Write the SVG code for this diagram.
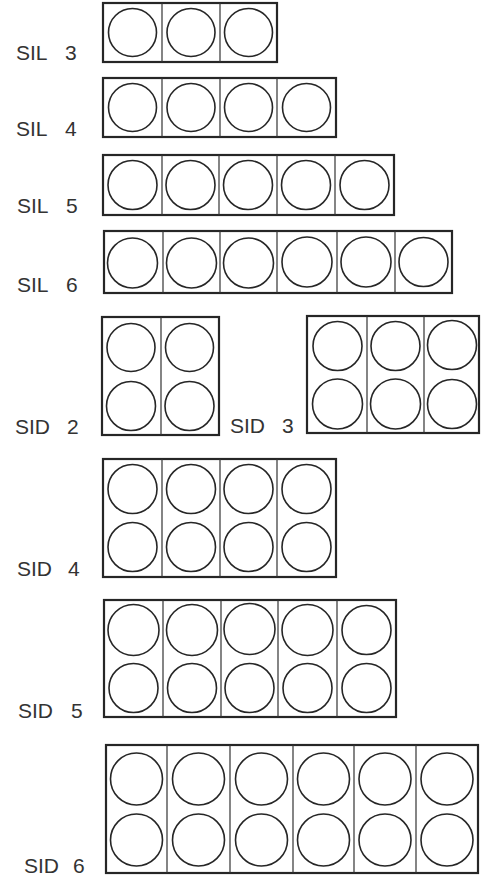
<svg xmlns="http://www.w3.org/2000/svg" width="483" height="876" viewBox="0 0 483 876">
<style>
.frame{fill:none;stroke:#262626;stroke-width:2.2}
.div{stroke:#333;stroke-width:1.2}
.c{fill:none;stroke:#262626;stroke-width:1.6}
.lbl{font-family:"Liberation Sans",Arial,sans-serif;font-size:21px;fill:#333}
</style>
<rect width="483" height="876" fill="#fff"/>
<g id="connectors"></g>

<g id="sil3">
<rect class="frame" x="103" y="3" width="174" height="59"/>
<line class="div" x1="162" y1="3" x2="162" y2="62"/><line class="div" x1="220" y1="3" x2="220" y2="62"/>
<circle class="c" cx="132.5" cy="32.5" r="24"/><circle class="c" cx="191" cy="32.5" r="24"/><circle class="c" cx="248.5" cy="32.5" r="24"/>
<text class="lbl" x="16" y="60">SIL <tspan x="65">3</tspan></text>
</g>

<g id="sil4">
<rect class="frame" x="103" y="78" width="233" height="59"/>
<line class="div" x1="162" y1="78" x2="162" y2="137"/><line class="div" x1="220" y1="78" x2="220" y2="137"/><line class="div" x1="277" y1="78" x2="277" y2="137"/>
<circle class="c" cx="132.5" cy="107.5" r="24"/><circle class="c" cx="191" cy="107.5" r="24"/><circle class="c" cx="248.5" cy="107.5" r="24"/><circle class="c" cx="306.5" cy="107.5" r="24"/>
<text class="lbl" x="16" y="136">SIL <tspan x="65">4</tspan></text>
</g>

<g id="sil5">
<rect class="frame" x="103" y="155" width="291" height="60"/>
<line class="div" x1="162" y1="155" x2="162" y2="215"/><line class="div" x1="219" y1="155" x2="219" y2="215"/><line class="div" x1="277" y1="155" x2="277" y2="215"/><line class="div" x1="335" y1="155" x2="335" y2="215"/>
<circle class="c" cx="132.5" cy="185" r="24.5"/><circle class="c" cx="190.5" cy="185" r="24.5"/><circle class="c" cx="248" cy="185" r="24.5"/><circle class="c" cx="306" cy="185" r="24.5"/><circle class="c" cx="364.5" cy="185" r="24.5"/>
<text class="lbl" x="17" y="213">SIL <tspan x="66">5</tspan></text>
</g>

<g id="sil6">
<rect class="frame" x="104" y="231" width="348" height="62"/>
<line class="div" x1="163" y1="231" x2="163" y2="293"/><line class="div" x1="220" y1="231" x2="220" y2="293"/><line class="div" x1="277" y1="231" x2="277" y2="293"/><line class="div" x1="337" y1="231" x2="337" y2="293"/><line class="div" x1="395" y1="231" x2="395" y2="293"/>
<circle class="c" cx="132.5" cy="263" r="25"/><circle class="c" cx="191.5" cy="263" r="25"/><circle class="c" cx="248.5" cy="263" r="25"/><circle class="c" cx="307" cy="262" r="25"/><circle class="c" cx="366" cy="262" r="25"/><circle class="c" cx="423.5" cy="262" r="24.5"/>
<text class="lbl" x="17" y="292">SIL <tspan x="66">6</tspan></text>
</g>

<g id="sid2">
<rect class="frame" x="102" y="317" width="117" height="118"/>
<line class="div" x1="161" y1="317" x2="161" y2="435"/>
<circle class="c" cx="131" cy="347.5" r="24"/><circle class="c" cx="189.5" cy="347.5" r="24"/>
<circle class="c" cx="131" cy="406" r="24.5"/><circle class="c" cx="189.5" cy="406" r="24.5"/>
<text class="lbl" x="15" y="434">SID <tspan x="67">2</tspan></text>
</g>

<g id="sid3">
<rect class="frame" x="307" y="316" width="172" height="117"/>
<line class="div" x1="367" y1="316" x2="367" y2="433"/><line class="div" x1="424" y1="316" x2="424" y2="433"/>
<circle class="c" cx="337.5" cy="346" r="24.5"/><circle class="c" cx="395.5" cy="346" r="24.5"/><circle class="c" cx="452" cy="345" r="24.5"/>
<circle class="c" cx="337.5" cy="404" r="25"/><circle class="c" cx="395.5" cy="404" r="25"/><circle class="c" cx="452" cy="404" r="24.5"/>
<text class="lbl" x="230" y="433">SID <tspan x="282">3</tspan></text>
</g>

<g id="sid4">
<rect class="frame" x="103" y="459" width="233" height="118"/>
<line class="div" x1="162" y1="459" x2="162" y2="577"/><line class="div" x1="220" y1="459" x2="220" y2="577"/><line class="div" x1="277" y1="459" x2="277" y2="577"/>
<circle class="c" cx="132.5" cy="489" r="24.5"/><circle class="c" cx="191" cy="489" r="24.5"/><circle class="c" cx="248.5" cy="489" r="24.5"/><circle class="c" cx="306.5" cy="489" r="24.5"/>
<circle class="c" cx="132.5" cy="547" r="24.5"/><circle class="c" cx="191" cy="547" r="24.5"/><circle class="c" cx="248.5" cy="547" r="24.5"/><circle class="c" cx="306.5" cy="547" r="24.5"/>
<text class="lbl" x="17" y="576">SID <tspan x="68">4</tspan></text>
</g>

<g id="sid5">
<rect class="frame" x="104" y="600" width="292" height="117"/>
<line class="div" x1="163" y1="600" x2="163" y2="717"/><line class="div" x1="221" y1="600" x2="221" y2="717"/><line class="div" x1="278" y1="600" x2="278" y2="717"/><line class="div" x1="337" y1="600" x2="337" y2="717"/>
<circle class="c" cx="133.5" cy="630" r="25.5"/><circle class="c" cx="192" cy="630" r="25.5"/><circle class="c" cx="249.5" cy="629" r="25.5"/><circle class="c" cx="307.5" cy="630" r="25.5"/><circle class="c" cx="366.5" cy="630" r="24.5"/>
<circle class="c" cx="133.5" cy="688" r="24.5"/><circle class="c" cx="192" cy="688" r="24.5"/><circle class="c" cx="249.5" cy="688" r="24.5"/><circle class="c" cx="307.5" cy="688" r="24.5"/><circle class="c" cx="366.5" cy="688" r="24.5"/>
<text class="lbl" x="18" y="718">SID <tspan x="71">5</tspan></text>
</g>

<g id="sid6">
<rect class="frame" x="106" y="745" width="372" height="128"/>
<line class="div" x1="167" y1="745" x2="167" y2="873"/><line class="div" x1="230" y1="745" x2="230" y2="873"/><line class="div" x1="293" y1="745" x2="293" y2="873"/><line class="div" x1="354" y1="745" x2="354" y2="873"/><line class="div" x1="416" y1="745" x2="416" y2="873"/>
<circle class="c" cx="136.5" cy="779" r="26"/><circle class="c" cx="198.5" cy="779" r="26"/><circle class="c" cx="261.5" cy="779" r="26"/><circle class="c" cx="323.5" cy="779" r="26"/><circle class="c" cx="385" cy="779" r="26"/><circle class="c" cx="447" cy="779" r="26"/>
<circle class="c" cx="136.5" cy="840" r="26"/><circle class="c" cx="198.5" cy="840" r="26"/><circle class="c" cx="261.5" cy="840" r="26"/><circle class="c" cx="323.5" cy="840" r="26"/><circle class="c" cx="385" cy="840" r="26"/><circle class="c" cx="447" cy="840" r="26"/>
<text class="lbl" x="24" y="873">SID <tspan x="73">6</tspan></text>
</g>
</svg>
